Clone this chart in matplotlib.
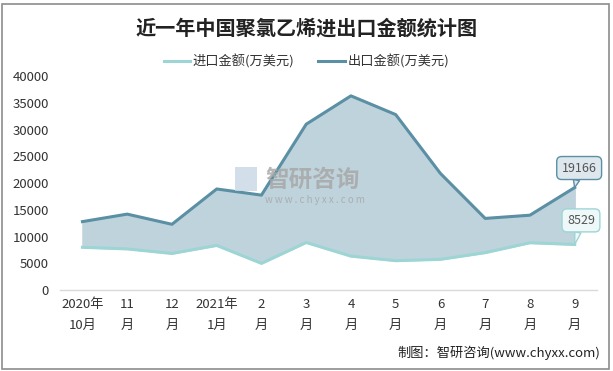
import matplotlib.pyplot as plt
from matplotlib.patches import Rectangle

plt.rcParams['font.family'] = ['Noto Sans CJK SC', 'DejaVu Sans']

months = ['2020年\n10月', '11\n月', '12\n月', '2021年\n1月', '2\n月', '3\n月',
          '4\n月', '5\n月', '6\n月', '7\n月', '8\n月', '9\n月']
imports = [8000, 7700, 6850, 8350, 5000, 8900, 6350, 5500, 5750, 7000, 8850, 8529]
exports = [12800, 14200, 12300, 18900, 17750, 31000, 36300, 32800, 21800, 13400, 14000, 19166]
yticks = [0, 5000, 10000, 15000, 20000, 25000, 30000, 35000, 40000]

c_in = '#9dd5d5'
c_out = '#5a8fa4'
c_fill = '#bfd3dc'

fig = plt.figure(figsize=(6.13, 3.71), dpi=100)
ax = fig.add_axes([0.098, 0.218, 0.876, 0.577])
x = list(range(len(months)))

ax.fill_between(x, imports, exports, color=c_fill, zorder=1)
ax.plot(x, imports, color=c_in, lw=2.2, zorder=3, label='进口金额(万美元)')
ax.plot(x, exports, color=c_out, lw=2.2, zorder=3, label='出口金额(万美元)')

ax.set_xlim(-0.5, 11.5)
ax.set_ylim(0, 40000)
ax.set_yticks(yticks)
ax.set_yticklabels([str(v) for v in yticks], fontsize=9.5, color='#333333')
ax.set_xticks(x)
ax.set_xticklabels(months, fontsize=9.5, color='#333333', linespacing=1.7)
ax.tick_params(length=0, pad=8)
ax.tick_params(axis='x', pad=6)
for s in ['top', 'right', 'left']:
    ax.spines[s].set_visible(False)
ax.spines['bottom'].set_color('#d9d9d9')
ax.spines['bottom'].set_linewidth(1)

# callouts on last point
ax.annotate(f'{exports[-1]}', xy=(11, exports[-1]), xytext=(11.1, exports[-1] + 3650),
            ha='center', va='center', fontsize=9, color='#555555', zorder=5,
            bbox=dict(boxstyle='round,pad=0.4', fc='#dfe7ee', ec=c_out, lw=1),
            arrowprops=dict(arrowstyle='wedge,tail_width=0.5', fc='#dfe7ee', ec=c_out, lw=1,
                            shrinkA=0, shrinkB=0))
ax.annotate(f'{imports[-1]}', xy=(11, imports[-1]), xytext=(11.14, imports[-1] + 4500),
            ha='center', va='center', fontsize=9, color='#555555', zorder=5,
            bbox=dict(boxstyle='round,pad=0.4', fc='#eef8f8', ec=c_in, lw=1),
            arrowprops=dict(arrowstyle='wedge,tail_width=0.5', fc='#eef8f8', ec=c_in, lw=1,
                            shrinkA=0, shrinkB=0))

leg = fig.legend(loc='center', bbox_to_anchor=(0.5, 0.835), ncol=2, frameon=False,
                 fontsize=9.5, handlelength=2.0, handletextpad=0.2, columnspacing=1.8)
for t in leg.get_texts():
    t.set_color('#333333')

fig.text(0.5, 0.925, '近一年中国聚氯乙烯进出口金额统计图', ha='center', va='center',
         fontsize=14.5, fontweight='bold', color='#222222')

# watermark
fig.text(0.432, 0.515, '智研咨询', ha='left', va='center', fontsize=17,
         color='#a8a8a8', alpha=0.85, fontweight='bold', zorder=0)
fig.text(0.432, 0.462, 'w w w . c h y x x . c o m', ha='left', va='center', fontsize=7,
         color='#a8a8a8', alpha=0.85)
fig.patches.append(Rectangle((0.383, 0.485), 0.036, 0.065, transform=fig.transFigure,
                             fc='#c8d6e6', ec='none', alpha=0.8))

fig.text(0.98, 0.05, '制图：智研咨询(www.chyxx.com)', ha='right', va='center',
         fontsize=9.5, color='#222222')

fig.patches.append(Rectangle((0.004, 0.005), 0.99, 0.985, transform=fig.transFigure,
                             fill=False, ec='#8c8c8c', lw=1.2))

fig.savefig('out.png', dpi=100)
